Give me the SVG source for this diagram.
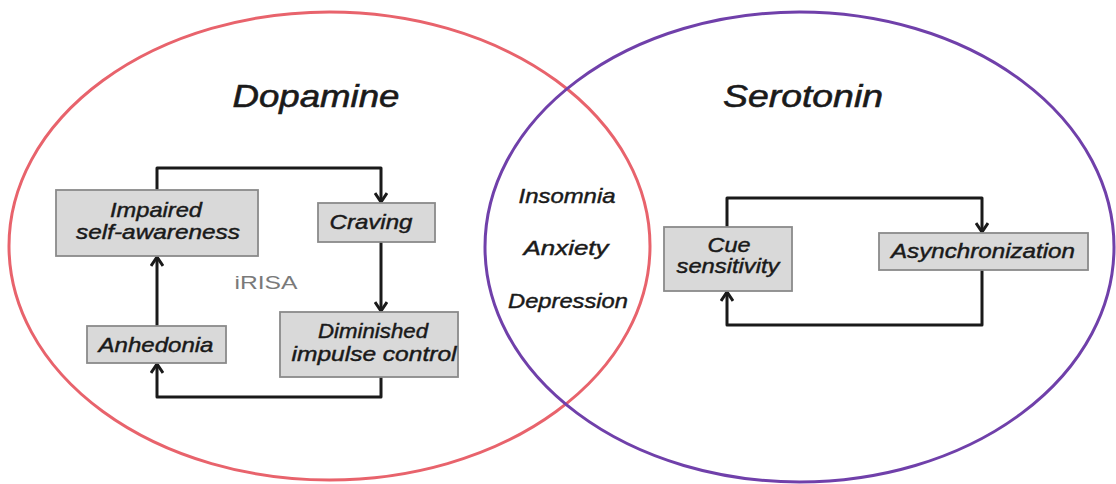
<svg xmlns="http://www.w3.org/2000/svg" width="1116" height="484" viewBox="0 0 1116 484">
<defs>
<style>
.t{font-family:"Liberation Sans",Arial,sans-serif;font-style:italic;fill:#1a1a1a;stroke:#1a1a1a;stroke-width:0.45;text-anchor:middle}
.title{font-size:32px;stroke-width:0.6}
.lbl{font-size:21px}
.box{fill:#d9d9d9;stroke:#8a8a8a;stroke-width:1.8}
.conn{fill:none;stroke:#1a1a1a;stroke-width:3;stroke-linejoin:round;marker-end:url(#arr)}
</style>
<marker id="arr" viewBox="0 0 12 14" refX="10" refY="7" markerWidth="12" markerHeight="14" markerUnits="userSpaceOnUse" orient="auto">
<path d="M1,1 L10,7 L1,13" fill="none" stroke="#1a1a1a" stroke-width="3"/>
</marker>
</defs>
<rect width="1116" height="484" fill="#ffffff"/>
<g id="dopamine-set">
<ellipse cx="329.5" cy="246" rx="320.5" ry="234" fill="none" stroke="#e8636c" stroke-width="3"/>
<text class="t title" x="316" y="107" textLength="167" lengthAdjust="spacingAndGlyphs">Dopamine</text>
</g>
<g id="serotonin-set">
<ellipse cx="799.5" cy="247" rx="314.5" ry="235" fill="none" stroke="#7040aa" stroke-width="3"/>
<text class="t title" x="803" y="107" textLength="160" lengthAdjust="spacingAndGlyphs">Serotonin</text>
</g>
<g id="connectors">
<path class="conn" d="M157,190 L157,168 L381,168 L381,202"/>
<path class="conn" d="M381,242 L381,311"/>
<path class="conn" d="M381,377 L381,397 L157,397 L157,364"/>
<path class="conn" d="M157,326 L157,257"/>
<path class="conn" d="M727,227 L727,198 L982,198 L982,232"/>
<path class="conn" d="M982,270 L982,325 L727,325 L727,292"/>
</g>
<g id="impaired">
<rect class="box" x="56" y="190" width="202" height="66"/>
<text class="t lbl" x="156" y="217" textLength="92" lengthAdjust="spacingAndGlyphs">Impaired</text>
<text class="t lbl" x="158" y="239" textLength="164" lengthAdjust="spacingAndGlyphs">self-awareness</text>
</g>
<g id="craving">
<rect class="box" x="318" y="203" width="117" height="39"/>
<text class="t lbl" x="371" y="229" textLength="83" lengthAdjust="spacingAndGlyphs">Craving</text>
</g>
<g id="diminished">
<rect class="box" x="280" y="312" width="178" height="65"/>
<text class="t lbl" x="373" y="338" textLength="110" lengthAdjust="spacingAndGlyphs">Diminished</text>
<text class="t lbl" x="374" y="361" textLength="165" lengthAdjust="spacingAndGlyphs">impulse control</text>
</g>
<g id="anhedonia">
<rect class="box" x="87" y="326" width="139" height="37"/>
<text class="t lbl" x="156" y="352" textLength="115" lengthAdjust="spacingAndGlyphs">Anhedonia</text>
</g>
<g id="irisa">
<text x="266" y="289" font-family="Liberation Sans,Arial,sans-serif" font-size="18" fill="#7a7a7a" text-anchor="middle" textLength="63" lengthAdjust="spacingAndGlyphs">iRISA</text>
</g>
<g id="overlap">
<text class="t lbl" x="567" y="203" textLength="97" lengthAdjust="spacingAndGlyphs">Insomnia</text>
<text class="t lbl" x="566" y="255" textLength="85" lengthAdjust="spacingAndGlyphs">Anxiety</text>
<text class="t lbl" x="568" y="308" textLength="120" lengthAdjust="spacingAndGlyphs">Depression</text>
</g>
<g id="cue">
<rect class="box" x="664" y="227" width="128" height="64"/>
<text class="t lbl" x="729" y="252" textLength="43" lengthAdjust="spacingAndGlyphs">Cue</text>
<text class="t lbl" x="728" y="273" textLength="103" lengthAdjust="spacingAndGlyphs">sensitivity</text>
</g>
<g id="asynchronization">
<rect class="box" x="879" y="233" width="209" height="37"/>
<text class="t lbl" x="983" y="258" textLength="184" lengthAdjust="spacingAndGlyphs">Asynchronization</text>
</g>
</svg>
